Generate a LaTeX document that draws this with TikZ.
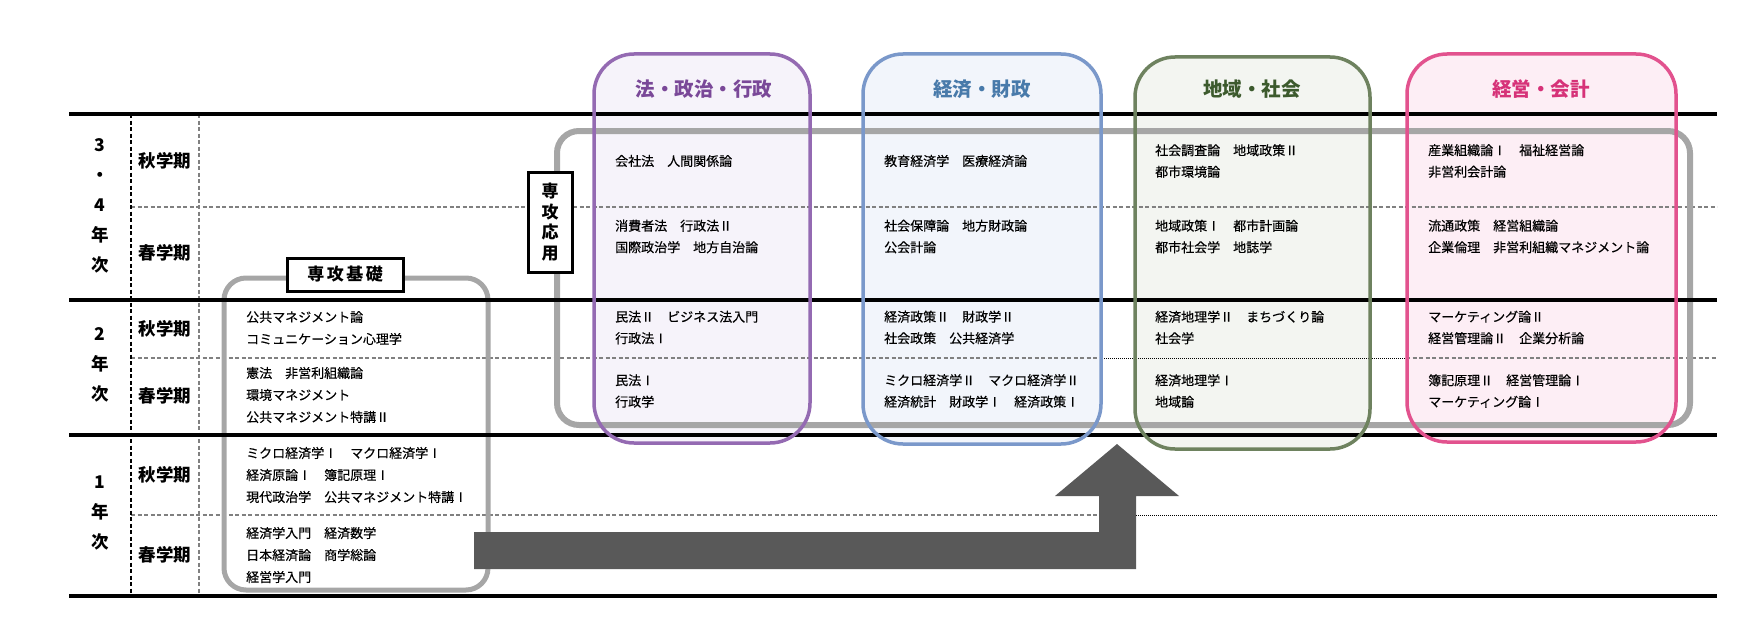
\documentclass[tikz,border=0pt]{standalone}
\usepackage{fontspec}
\usepackage{xcolor}
\usepackage{tikz}
\newfontfamily\jp{Noto Sans CJK JP}
\newfontfamily\jpm[FakeBold=0.35]{Noto Sans CJK JP}
\definecolor{lawline}{RGB}{148,106,178}
\definecolor{lawtext}{RGB}{122,72,152}
\definecolor{lawfill}{RGB}{246,243,250}
\definecolor{ecoline}{RGB}{122,152,202}
\definecolor{ecotext}{RGB}{72,122,170}
\definecolor{ecofill}{RGB}{242,245,251}
\definecolor{regline}{RGB}{110,130,95}
\definecolor{regtext}{RGB}{60,90,45}
\definecolor{regfill}{RGB}{243,245,241}
\definecolor{mgtline}{RGB}{226,82,142}
\definecolor{mgttext}{RGB}{214,50,120}
\definecolor{mgtfill}{RGB}{253,238,245}
\definecolor{frame}{RGB}{166,166,166}
\definecolor{arrowgray}{RGB}{89,89,89}

\begin{document}
\begin{tikzpicture}[x=1pt,y=-1pt,
		course/.style={anchor=west,inner sep=0pt,align=left,font=\jpm\fontsize{13}{21.5}\selectfont},
		basecourse/.style={course,font=\jpm\fontsize{13}{22}\selectfont},
		term/.style={inner sep=0pt,font=\jp\bfseries\fontsize{17.5}{17.5}\selectfont},
		year/.style={inner sep=0pt,align=center,font=\jp\bfseries\fontsize{17.5}{30}\selectfont},
		fieldtitle/.style={inner sep=0pt,font=\jp\bfseries\fontsize{19.5}{19.5}\selectfont},
		fieldbox/.style={line width=3.5pt,rounded corners=40pt},
		grouplabel/.style={draw,fill=white,line width=3pt,inner sep=0pt,align=center,font=\jp\bfseries\fontsize{17}{20.5}\selectfont},
		termline/.style={gray,line width=1.1pt,dash pattern=on 4pt off 2.5pt},
		dotline/.style={black,line width=1pt,dash pattern=on 1pt off 1pt}]
		\def\xl{69}
		\def\xr{1717}
		\useasboundingbox (0,0) rectangle (1754,642);
		\fill [lawfill,rounded corners=40pt] (594,54) rectangle (810,443);
		\fill [ecofill,rounded corners=40pt] (863,54) rectangle (1101,444);
		\fill [regfill,rounded corners=40pt] (1135,57) rectangle (1370,449);
		\fill [mgtfill,rounded corners=40pt] (1407,54) rectangle (1676,442);
		\draw [termline] (131,207) -- (\xr,207)
			  (131,358) -- (1102,358) (1406,358) -- (\xr,358)
			  (131,515) -- (1117,515);
		\draw [dotline] (1102,358) -- (1406,358)
			  (1136,515) -- (\xr,515);
		\draw [black,line width=1.1pt,dash pattern=on 4pt off 2.5pt] (131,114) -- (131,596);
		\draw [termline] (199,114) -- (199,596);
		\draw [frame,line width=5pt,rounded corners=22pt] (224,278) rectangle (488,590);
		\draw [frame,line width=6pt,rounded corners=22pt] (557,131) rectangle (1690,425);
		\foreach \y in {114,300,435,596}
			\draw [line width=3.5pt] (\xl,\y) -- (\xr,\y);
		\draw [fieldbox,lawline] (594,54) rectangle (810,443);
		\draw [fieldbox,ecoline] (863,54) rectangle (1101,444);
		\draw [fieldbox,regline] (1135,57) rectangle (1370,449);
		\draw [fieldbox,mgtline] (1407,54) rectangle (1676,442);
		\fill [arrowgray] (474,532) -- (1099,532) -- (1099,496) -- (1055,496) -- (1117,444)
			  -- (1179,496) -- (1136,496) -- (1136,569) -- (474,569) -- cycle;

		\node [year] (y34) at (100,206) {3\\・\\4\\年\\次};
		\node [year] (y2) at (100,365) {2\\年\\次};
		\node [year] (y1) at (100,513) {1\\年\\次};
		\node [term] (t34a) at (165,161) {秋学期};
		\node [term] (t34s) at (165,253) {春学期};
		\node [term] (t2a) at (165,329) {秋学期};
		\node [term] (t2s) at (165,396) {春学期};
		\node [term] (t1a) at (165,475) {秋学期};
		\node [term] (t1s) at (165,555) {春学期};

		\node [grouplabel,minimum width=116pt,minimum height=33pt] (basic) at (345,274.5)
			{専\hspace{2.5pt}攻\hspace{2.5pt}基\hspace{2.5pt}礎};
		\node [grouplabel,minimum width=44pt,minimum height=100pt] (applied) at (550,222)
			{専\\攻\\応\\用};

		\node [basecourse] (b2a) at (246,328) {公共マネジメント論\\コミュニケーション心理学};
		\node [basecourse] (b2s) at (246,395) {憲法　非営利組織論\\環境マネジメント\\公共マネジメント特講Ⅱ};
		\node [basecourse] (b1a) at (246,475) {ミクロ経済学Ⅰ　マクロ経済学Ⅰ\\経済原論Ⅰ　簿記原理Ⅰ\\現代政治学　公共マネジメント特講Ⅰ};
		\node [basecourse] (b1s) at (246,555) {経済学入門　経済数学\\日本経済論　商学総論\\経営学入門};

		\node [fieldtitle,lawtext] (law) at (704,89) {法・政治・行政};
		\node [course] (law34a) at (615,161) {会社法　人間関係論};
		\node [course] (law34s) at (615,236.5) {消費者法　行政法Ⅱ\\国際政治学　地方自治論};
		\node [course] (law2a) at (615,327.5) {民法Ⅱ　ビジネス法入門\\行政法Ⅰ};
		\node [course] (law2s) at (615,391) {民法Ⅰ\\行政学};

		\node [fieldtitle,ecotext] (eco) at (982,89) {経済・財政};
		\node [course] (eco34a) at (884,161) {教育経済学　医療経済論};
		\node [course] (eco34s) at (884,236.5) {社会保障論　地方財政論\\公会計論};
		\node [course] (eco2a) at (884,327.5) {経済政策Ⅱ　財政学Ⅱ\\社会政策　公共経済学};
		\node [course] (eco2s) at (884,391) {ミクロ経済学Ⅱ　マクロ経済学Ⅱ\\経済統計　財政学Ⅰ　経済政策Ⅰ};

		\node [fieldtitle,regtext] (reg) at (1252,89) {地域・社会};
		\node [course] (reg34a) at (1155,161) {社会調査論　地域政策Ⅱ\\都市環境論};
		\node [course] (reg34s) at (1155,236.5) {地域政策Ⅰ　都市計画論\\都市社会学　地誌学};
		\node [course] (reg2a) at (1155,327.5) {経済地理学Ⅱ　まちづくり論\\社会学};
		\node [course] (reg2s) at (1155,391) {経済地理学Ⅰ\\地域論};

		\node [fieldtitle,mgttext] (mgt) at (1541,89) {経営・会計};
		\node [course] (mgt34a) at (1428,161) {産業組織論Ⅰ　福祉経営論\\非営利会計論};
		\node [course] (mgt34s) at (1428,236.5) {流通政策　経営組織論\\企業倫理　非営利組織マネジメント論};
		\node [course] (mgt2a) at (1428,327.5) {マーケティング論Ⅱ\\経営管理論Ⅱ　企業分析論};
		\node [course] (mgt2s) at (1428,391) {簿記原理Ⅱ　経営管理論Ⅰ\\マーケティング論Ⅰ};
	\end{tikzpicture}
\end{document}
